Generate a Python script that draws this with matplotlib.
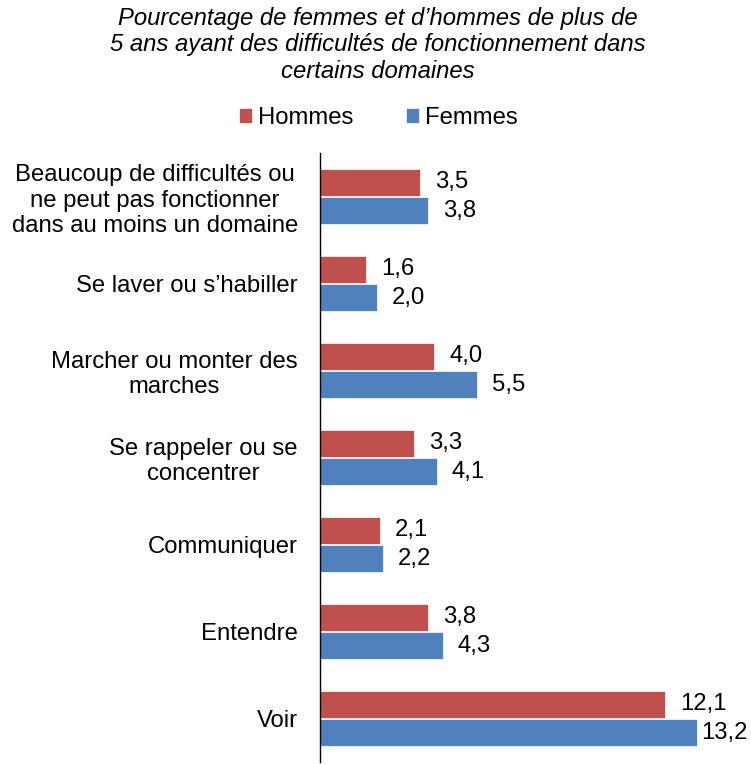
import matplotlib
matplotlib.use("Agg")
import matplotlib.pyplot as plt
import numpy as np

plt.rcParams['font.family'] = ['Liberation Sans', 'DejaVu Sans']

categories = [
    "Beaucoup de difficultés ou\nne peut pas fonctionner\ndans au moins un domaine",
    "Se laver ou s\u2019habiller",
    "Marcher ou monter des\nmarches",
    "Se rappeler ou se\nconcentrer",
    "Communiquer",
    "Entendre",
    "Voir",
]
hommes = [3.5, 1.6, 4.0, 3.3, 2.1, 3.8, 12.1]
femmes = [3.8, 2.0, 5.5, 4.1, 2.2, 4.3, 13.2]
series_names = ["Hommes", "Femmes"]
title = ("Pourcentage de femmes et d\u2019hommes de plus de\n"
         "5 ans ayant des difficultés de fonctionnement dans\n"
         "certains domaines")

red = "#C0504D"
blue = "#4F81BD"
FS = 17.2
W, H = 751, 764

fig = plt.figure(figsize=(W/100, H/100), dpi=100)
ax = fig.add_axes([320/W, 2/H, (748-320)/W, (762-153)/H])

y = np.arange(len(categories))
h = 0.31
b1 = ax.barh(y - h/2 - 0.01, hommes, height=h, color=red, edgecolor="white", linewidth=0.5, label=series_names[0])
b2 = ax.barh(y + h/2 + 0.01, femmes, height=h, color=blue, edgecolor="white", linewidth=0.5, label=series_names[1])

ax.set_xlim(0, 15)
ax.set_ylim(len(categories) - 0.5, -0.5)

fig.canvas.draw()
for bars, vals in ((b1, hommes), (b2, femmes)):
    for bar, v in zip(bars, vals):
        yc = bar.get_y() + bar.get_height()/2
        xpix = ax.transData.transform((bar.get_width(), yc))[0]
        off = 15
        if xpix + off + 44 > W - 4:
            off = (W - 6 - 44) - xpix
        ax.annotate(f"{v:.1f}".replace(".", ","),
                    (bar.get_width(), yc),
                    xytext=(off, 0), textcoords="offset pixels",
                    va="center", ha="left", fontsize=FS)

ax.set_yticks(y)
ax.set_yticklabels(categories, fontsize=FS, ha="right", multialignment="center",
                   linespacing=1.2)
ax.tick_params(axis="y", length=0, pad=16)
ax.set_xticks([])
for s in ("top", "right", "bottom"):
    ax.spines[s].set_visible(False)
ax.spines["left"].set_color("#000000")
ax.spines["left"].set_linewidth(1)

fig.text(378/W, 1 - 45/H, title, ha="center", va="center",
         fontsize=FS, style="italic", linespacing=1.2)

fig.legend(handles=[b1, b2], labels=series_names, loc="center",
           bbox_to_anchor=(378/W, 1 - 118/H), ncol=2, frameon=False,
           fontsize=FS, handlelength=0.55, handleheight=0.55, handletextpad=0.25,
           columnspacing=2.2)

fig.savefig("out.png", dpi=100)
